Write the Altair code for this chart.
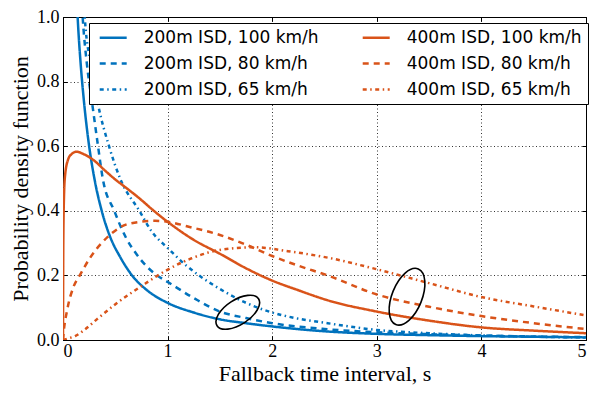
import altair as alt
import pandas as pd

# ---- data ----
series_names = [
    "200m ISD, 100 km/h", "200m ISD, 80 km/h", "200m ISD, 65 km/h",
    "400m ISD, 100 km/h", "400m ISD, 80 km/h", "400m ISD, 65 km/h",
]
series_colors = ["#0072BD", "#0072BD", "#0072BD", "#D95319", "#D95319", "#D95319"]
series_dashes = [[1, 0], [6, 5], [4, 3.5, 1.5, 3.5], [1, 0], [6, 5], [4, 3.5, 1.5, 3.5]]

t_b100 = [0.12, 0.14, 0.17, 0.2, 0.25, 0.3, 0.37, 0.45, 0.55, 0.66, 0.8, 1.0, 1.25, 1.5, 1.75, 2.0, 2.5, 3.0, 3.5, 4.0, 4.5, 5.0]
v_b100 = [1.15, 1.0, 0.85, 0.74, 0.6, 0.5, 0.4, 0.32, 0.255, 0.2, 0.155, 0.115, 0.085, 0.064, 0.052, 0.042, 0.027, 0.019, 0.015, 0.012, 0.01, 0.008]

t_b80 = [0.17, 0.19, 0.23, 0.28, 0.335, 0.38, 0.49, 0.6, 0.7, 0.8, 0.9, 1.0, 1.26, 1.5, 1.75, 2.0, 2.5, 3.0, 3.5, 4.0, 4.5, 5.0]
v_b80 = [1.1, 0.99, 0.85, 0.73, 0.6, 0.5, 0.4, 0.318, 0.267, 0.228, 0.2, 0.18, 0.128, 0.088, 0.068, 0.052, 0.034, 0.024, 0.018, 0.014, 0.011, 0.009]

t_b65 = [0.19, 0.21, 0.27, 0.335, 0.44, 0.55, 0.73, 0.85, 1.0, 1.18, 1.3, 1.5, 1.75, 2.0, 2.25, 2.53, 3.0, 3.5, 4.0, 4.5, 5.0]
v_b65 = [1.1, 0.99, 0.85, 0.73, 0.6, 0.497, 0.4, 0.335, 0.285, 0.23, 0.2, 0.158, 0.115, 0.085, 0.066, 0.052, 0.031, 0.021, 0.014, 0.01, 0.008]

t_o100 = [0.0, 0.003, 0.01, 0.02, 0.05, 0.08, 0.13, 0.2, 0.3, 0.4, 0.5, 0.6, 0.74, 0.85, 1.0, 1.25, 1.5, 1.75, 2.0, 2.25, 2.53, 3.0, 3.5, 4.0, 4.5, 5.0]
v_o100 = [0.0, 0.3, 0.45, 0.51, 0.56, 0.575, 0.583, 0.575, 0.555, 0.525, 0.497, 0.472, 0.436, 0.405, 0.366, 0.31, 0.267, 0.222, 0.184, 0.154, 0.123, 0.088, 0.06, 0.039, 0.029, 0.021]

t_o80 = [0.0, 0.006, 0.04, 0.1, 0.16, 0.26, 0.43, 0.63, 0.88, 1.0, 1.21, 1.5, 1.75, 2.0, 2.25, 2.53, 3.0, 3.5, 4.0, 4.5, 5.0]
v_o80 = [0.0, 0.022, 0.093, 0.164, 0.2, 0.255, 0.32, 0.36, 0.369, 0.366, 0.35, 0.325, 0.295, 0.26, 0.23, 0.2, 0.141, 0.103, 0.074, 0.052, 0.034]

t_o65 = [0.0, 0.05, 0.116, 0.2, 0.32, 0.51, 0.76, 0.98, 1.23, 1.52, 1.84, 2.15, 2.53, 3.0, 3.5, 4.0, 4.5, 5.0]
v_o65 = [0.0, 0.005, 0.012, 0.03, 0.063, 0.113, 0.169, 0.214, 0.253, 0.28, 0.287, 0.275, 0.255, 0.219, 0.176, 0.133, 0.104, 0.076]

x_ticks = [0, 1, 2, 3, 4, 5]
y_ticks = [0.0, 0.2, 0.4, 0.6, 0.8, 1.0]

# ellipse annotations: centre (t, v), size, rotation
ell_t = [1.671, 3.289]
ell_v = [0.086, 0.134]
ell_size = [2450, 3600]
ell_angle = [327, 292]

# ---- build tables ----
curves = [
    (series_names[0], t_b100, v_b100),
    (series_names[1], t_b80, v_b80),
    (series_names[2], t_b65, v_b65),
    (series_names[3], t_o100, v_o100),
    (series_names[4], t_o80, v_o80),
    (series_names[5], t_o65, v_o65),
]
rows = []
for name, ts, vs in curves:
    for t, v in zip(ts, vs):
        rows.append({"t": t, "v": v, "series": name})
df = pd.DataFrame(rows)

ell_df = pd.DataFrame({"t": ell_t, "v": ell_v, "size": ell_size, "angle": ell_angle})

ellipse_path = ("M -1 0 C -1 -0.276 -0.552 -0.5 0 -0.5 C 0.552 -0.5 1 -0.276 1 0 "
                "C 1 0.276 0.552 0.5 0 0.5 C -0.552 0.5 -1 0.276 -1 0 Z")
legend_line = "M -2 0 L 2 0"

serif = "Liberation Serif"

xscale = alt.Scale(domain=[0, 5], nice=False, zero=False)
yscale = alt.Scale(domain=[0, 1], nice=False)

lines = alt.Chart(df).mark_line(strokeWidth=2.5, clip=True, interpolate="monotone").encode(
    x=alt.X("t:Q", scale=xscale,
            axis=alt.Axis(orient="bottom", values=x_ticks, format="d", tickSize=4, offset=-4,
                          domain=False, labelPadding=2, grid=True,
                          title="Fallback time interval, s", titlePadding=3)),
    y=alt.Y("v:Q", scale=yscale,
            axis=alt.Axis(orient="left", values=y_ticks, format=".1f", tickSize=4, offset=-4,
                          domain=False, labelPadding=4, grid=True,
                          title="Probability density function", titlePadding=4)),
    color=alt.Color("series:N", scale=alt.Scale(domain=series_names, range=series_colors),
                    legend=alt.Legend(title=None)),
    strokeDash=alt.StrokeDash("series:N", scale=alt.Scale(domain=series_names, range=series_dashes),
                              legend=alt.Legend(title=None)),
)

ellipses = alt.Chart(ell_df).mark_point(shape=ellipse_path, filled=False, color="black",
                                        strokeWidth=1.6, opacity=1).encode(
    x=alt.X("t:Q", scale=xscale,
            axis=alt.Axis(orient="top", values=x_ticks, labels=False, tickSize=4, offset=-4,
                          domain=False, grid=False, title=None)),
    y=alt.Y("v:Q", scale=yscale,
            axis=alt.Axis(orient="right", values=y_ticks, labels=False, tickSize=4, offset=-4,
                          domain=False, grid=False, title=None)),
    size=alt.Size("size:Q", scale=None, legend=None),
    angle=alt.Angle("angle:Q", scale=None),
)

chart = alt.layer(lines, ellipses).properties(
    width=523, height=323,
    autosize=alt.AutoSizeParams(type="none"),
    padding={"left": 55, "top": 9, "right": 4, "bottom": 47},
    background="white",
).configure_view(
    stroke="black", strokeWidth=1
).configure_axis(
    labelFont=serif, labelFontSize=18, labelColor="black",
    titleFont=serif, titleFontSize=22, titleFontWeight="normal", titleColor="black",
    tickColor="black", tickWidth=1,
    gridColor="black", gridDash=[1, 2.5], gridWidth=0.8, gridOpacity=1,
).configure_legend(
    orient="none", legendX=26, legendY=6, columns=2,
    symbolType=legend_line, symbolSize=182, symbolStrokeWidth=2.5, symbolOffset=9.7,
    labelFont="DejaVu Sans", labelFontSize=17, labelColor="black", labelLimit=300,
    labelOffset=22, columnPadding=38, rowPadding=8, padding=6,
    strokeColor="black", fillColor="white", cornerRadius=0,
)

chart.save("out.html", embed_options={"renderer": "svg", "actions": False})
